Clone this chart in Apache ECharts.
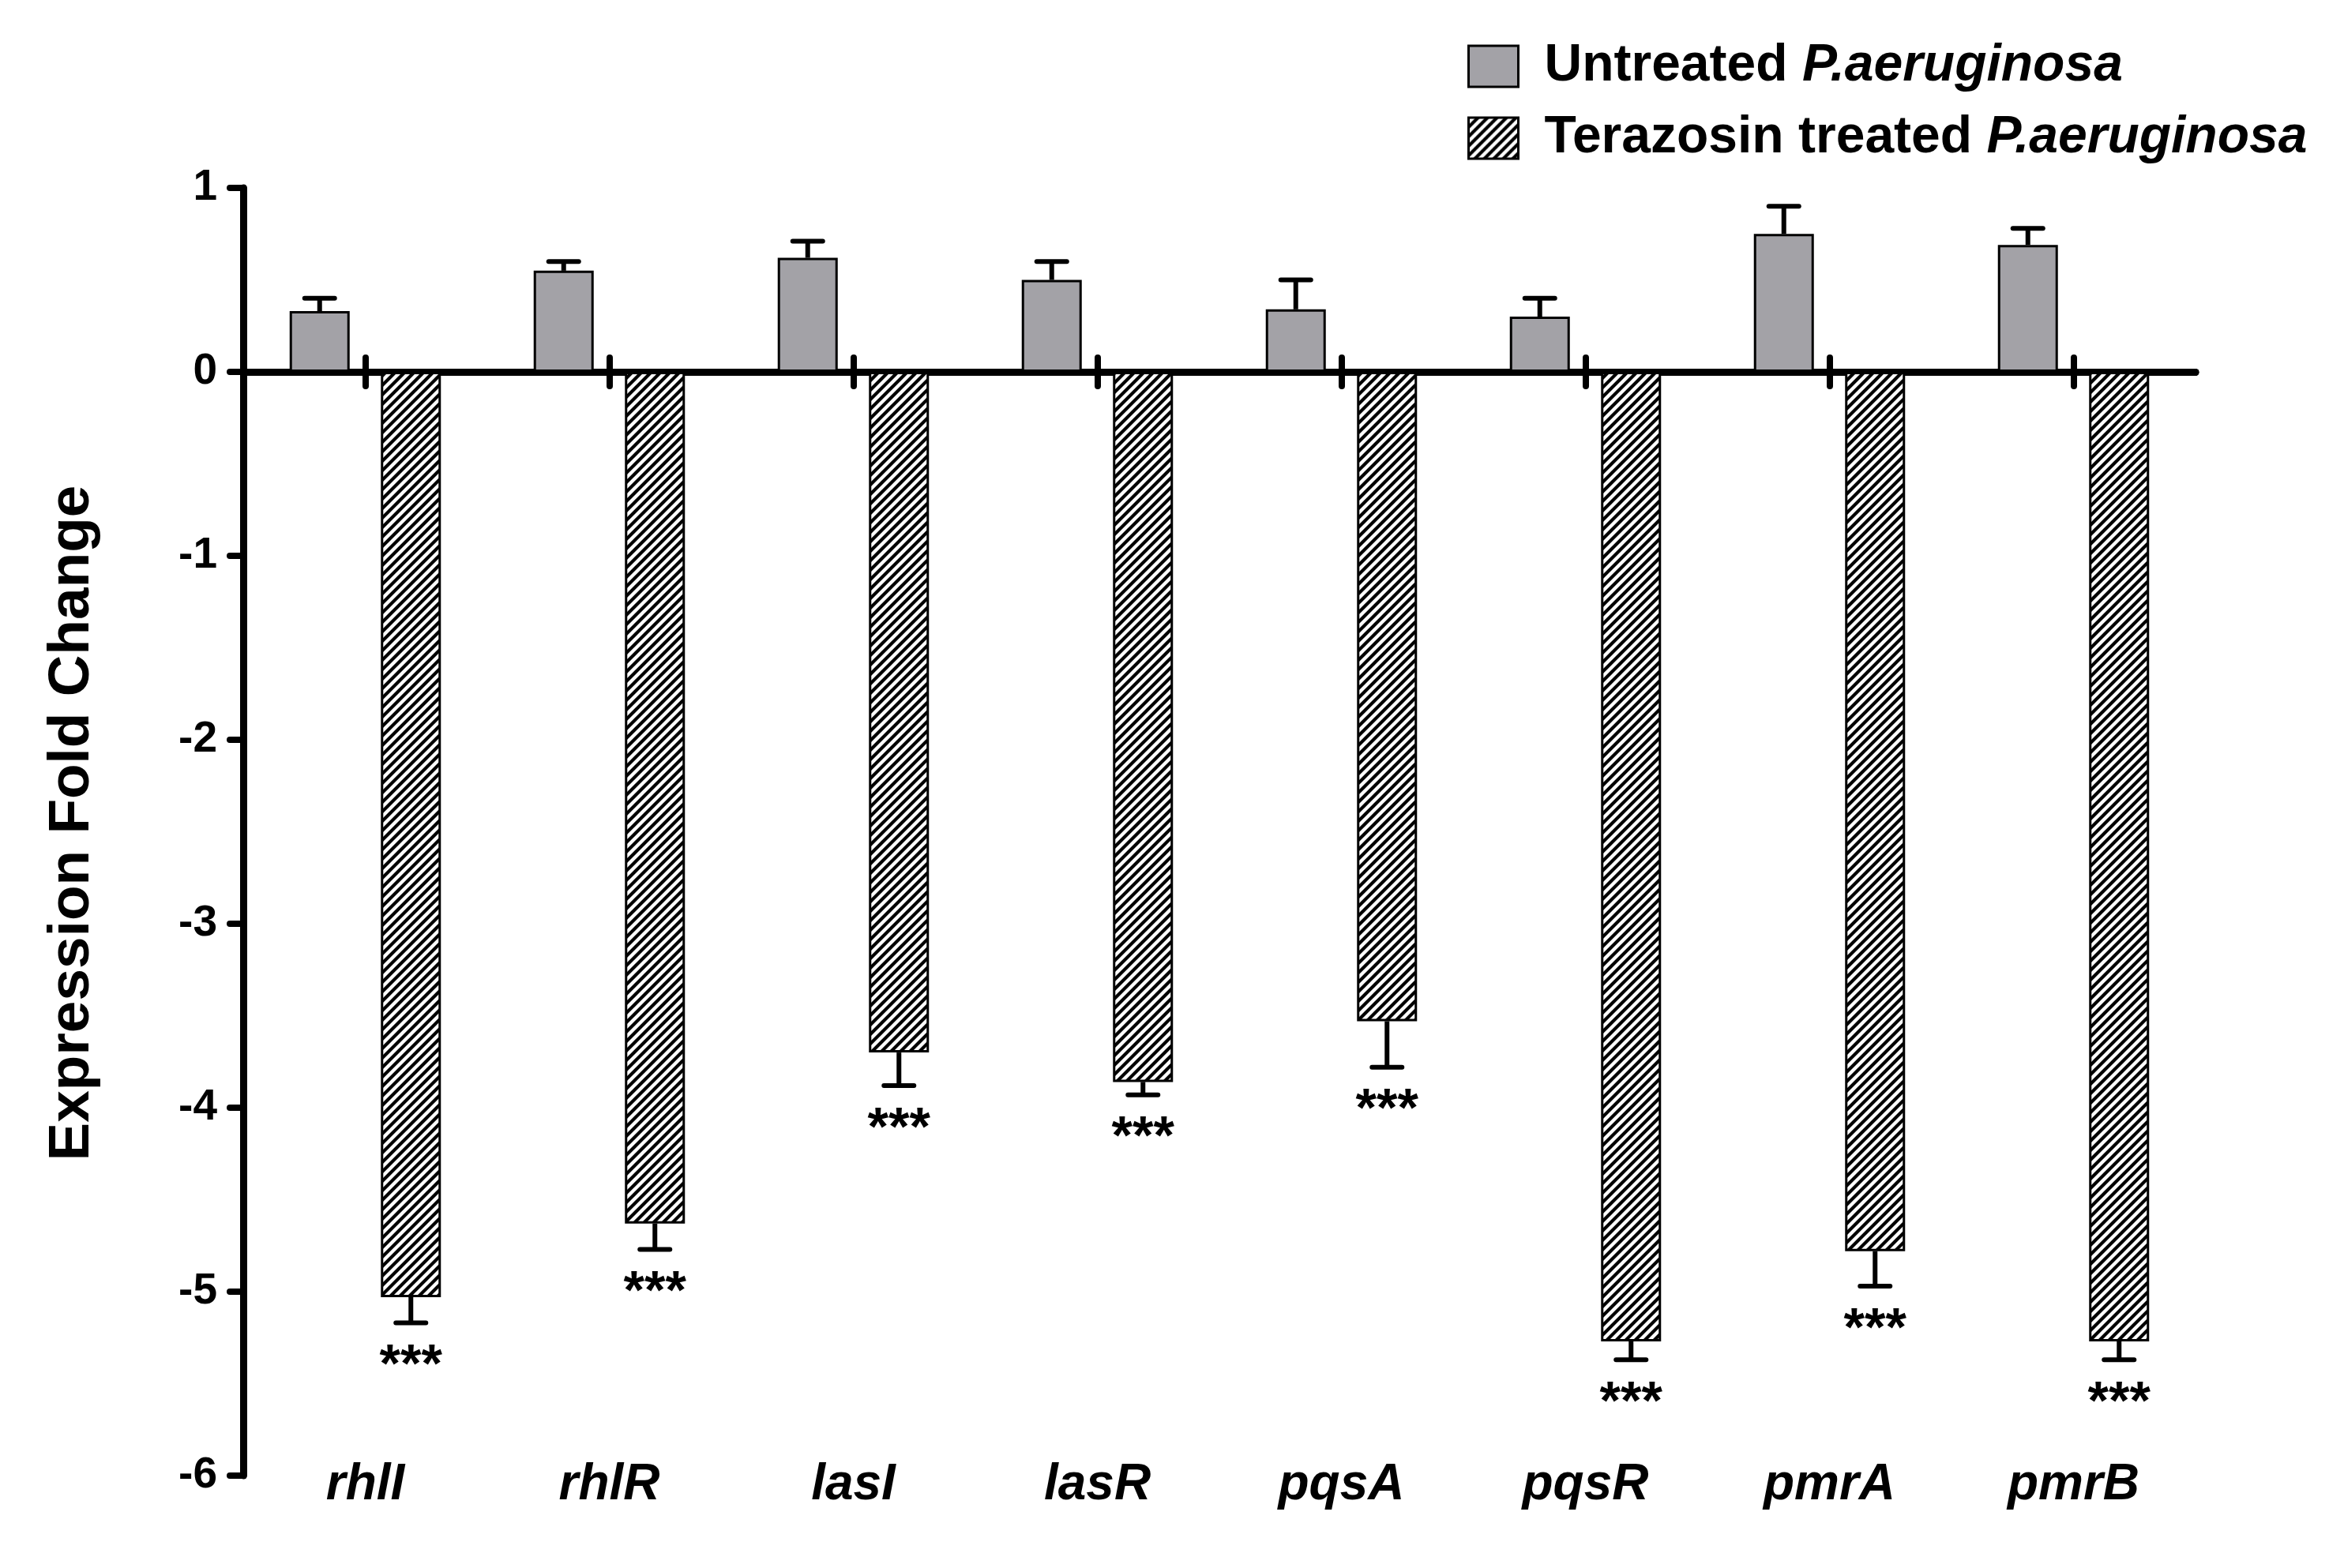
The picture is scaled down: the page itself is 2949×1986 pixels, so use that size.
<!DOCTYPE html>
<html>
<head>
<meta charset="utf-8">
<script src="https://cdn.jsdelivr.net/npm/echarts@6/dist/echarts.min.js"></script>
<style>
html,body{margin:0;padding:0;background:#fff;}
#chart{width:2949px;height:1986px;}
</style>
</head>
<body>
<div id="chart"></div>
<script>
// ---- data ----
const categories = ['rhlI', 'rhlR', 'lasI', 'lasR', 'pqsA', 'pqsR', 'pmrA', 'pmrB'];
const untreatedMean = [0.33, 0.55, 0.62, 0.50, 0.34, 0.30, 0.75, 0.69];
const untreatedErr  = [0.07, 0.05, 0.09, 0.10, 0.16, 0.10, 0.15, 0.09];
const treatedMean   = [-5.03, -4.63, -3.70, -3.86, -3.53, -5.27, -4.78, -5.27];
const treatedErr    = [0.14, 0.14, 0.18, 0.07, 0.25, 0.10, 0.19, 0.10];
const significance  = ['***', '***', '***', '***', '***', '***', '***', '***'];
const yMin = -6, yMax = 1, yStep = 1;
const seriesNames = ['Untreated P.aeruginosa', 'Terazosin treated P.aeruginosa'];

// ---- style ----
const FONT = 'Liberation Sans';
const BAR_W = 76, BAR_GAP = 0.52;
const OFFSET = (BAR_W + BAR_W * BAR_GAP) / 2;

function makeHatch() {
  const p = 12, c = document.createElement('canvas');
  c.width = p; c.height = p;
  const g = c.getContext('2d');
  g.fillStyle = '#fff'; g.fillRect(0, 0, p, p);
  g.strokeStyle = '#000'; g.lineWidth = 4.2; g.lineCap = 'square';
  g.beginPath();
  g.moveTo(-3, p + 3); g.lineTo(p + 3, -3);
  g.moveTo(-3, 3); g.lineTo(3, -3);
  g.moveTo(p - 3, p + 3); g.lineTo(p + 3, p - 3);
  g.stroke();
  return c;
}
const hatch = { image: makeHatch(), repeat: 'repeat' };

function errRenderer(offset, dir, marks) {
  return function (params, api) {
    const i = api.value(0), mean = api.value(1), err = api.value(2);
    const p0 = api.coord([i, mean]);
    const p1 = api.coord([i, mean + dir * err]);
    const x = p0[0] + offset;
    const children = [
      { type: 'line', shape: { x1: x, y1: p0[1], x2: x, y2: p1[1] }, style: { stroke: '#000', lineWidth: 6 } },
      { type: 'line', shape: { x1: x - 19, y1: p1[1], x2: x + 19, y2: p1[1] }, style: { stroke: '#000', lineWidth: 6, lineCap: 'round' } }
    ];
    if (marks) {
      children.push({ type: 'text', x: x, y: p1[1] + 56,
        style: { text: marks[i], fontSize: 68, fontWeight: 'bold', fontFamily: FONT, fill: '#000', align: 'center', verticalAlign: 'middle' } });
    }
    return { type: 'group', children: children };
  };
}

const chart = echarts.init(document.getElementById('chart'));
const tickLine = { color: '#000', width: 8, cap: 'round' };
chart.setOption({
  animation: false,
  backgroundColor: '#fff',
  grid: { left: 308, top: 238, width: 2472, height: 1631, containLabel: false },
  legend: {
    orient: 'vertical', left: 1853, top: 46,
    icon: 'rect', itemWidth: 63, itemHeight: 52, itemGap: 25,
    data: seriesNames,
    itemStyle: { borderColor: '#000', borderWidth: 3 },
    formatter: function (name) {
      const k = name.indexOf('P.aeruginosa');
      return '{n|' + name.slice(0, k) + '}{i|P.aeruginosa}';
    },
    textStyle: {
      padding: [0, 0, 0, 28],
      rich: {
        n: { fontSize: 66, fontWeight: 'bold', fontFamily: FONT, color: '#000' },
        i: { fontSize: 66, fontWeight: 'bold', fontStyle: 'italic', fontFamily: FONT, color: '#000' }
      }
    }
  },
  xAxis: [
    { type: 'category', data: categories, position: 'bottom',
      axisLine: { show: true, onZero: true, onZeroAxisIndex: 0, lineStyle: { color: '#000', width: 9 } },
      axisTick: { show: true, alignWithLabel: true, interval: 0, inside: false, length: 18, lineStyle: tickLine },
      axisLabel: { show: false }, splitLine: { show: false } },
    { type: 'category', data: categories, position: 'bottom',
      axisLine: { show: true, onZero: true, onZeroAxisIndex: 0, lineStyle: { color: '#000', width: 9 } },
      axisTick: { show: true, alignWithLabel: true, interval: 0, inside: true, length: 18, lineStyle: tickLine },
      axisLabel: { show: false }, splitLine: { show: false } },
    { type: 'category', data: categories, position: 'bottom',
      axisLine: { show: false, onZero: false }, axisTick: { show: false }, splitLine: { show: false },
      axisLabel: { margin: 12, interval: 0, verticalAlign: 'middle', fontSize: 64, fontWeight: 'bold', fontStyle: 'italic', fontFamily: FONT, color: '#000' } }
  ],
  yAxis: {
    type: 'value', min: yMin, max: yMax, interval: yStep,
    name: 'Expression Fold Change', nameLocation: 'middle', nameGap: 180, nameRotate: 90,
    nameTextStyle: { fontSize: 73, fontWeight: 'bold', fontFamily: FONT, color: '#000', padding: [0, 0, 0, 22] },
    axisLine: { show: true, lineStyle: { color: '#000', width: 9 } },
    axisTick: { show: true, length: 17, lineStyle: tickLine },
    axisLabel: { margin: 33, fontSize: 55, fontWeight: 'bold', fontFamily: FONT, color: '#000' },
    splitLine: { show: false }
  },
  series: [
    { name: seriesNames[0], type: 'bar', data: untreatedMean, barWidth: BAR_W, barGap: (BAR_GAP * 100) + '%',
      itemStyle: { color: '#a3a2a7', borderColor: '#000', borderWidth: 3 } },
    { name: seriesNames[1], type: 'bar', data: treatedMean, barWidth: BAR_W,
      itemStyle: { color: hatch, borderColor: '#000', borderWidth: 3 } },
    { type: 'custom', z: 5, clip: false,
      data: untreatedMean.map((v, i) => [i, v, untreatedErr[i]]),
      renderItem: errRenderer(-OFFSET, 1, null) },
    { type: 'custom', z: 5, clip: false,
      data: treatedMean.map((v, i) => [i, v, treatedErr[i]]),
      renderItem: errRenderer(OFFSET, -1, significance) }
  ]
});
</script>
</body>
</html>
